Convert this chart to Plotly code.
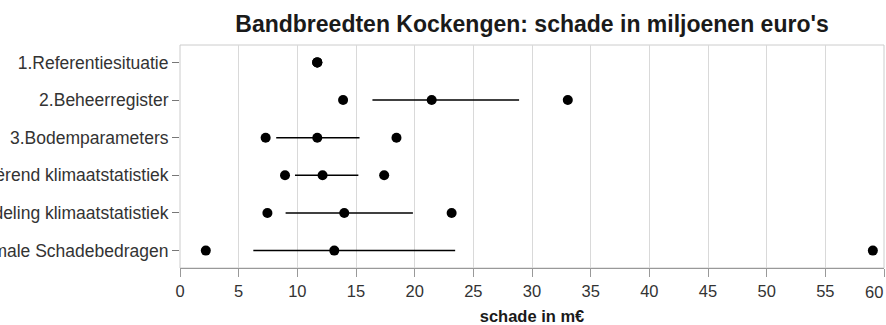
import plotly.graph_objects as go

# Scenarios (top to bottom) and the damage values per scenario, in million euro
categories = [
    "1.Referentiesituatie",
    "2.Beheerregister",
    "3.Bodemparameters",
    "4.Variërend klimaatstatistiek",
    "5.Verdeling klimaatstatistiek",
    "6.Maximale Schadebedragen",
]
laag = [11.7, 13.9, 7.3, 8.95, 7.45, 2.2]
midden = [11.7, 21.45, 11.7, 12.15, 14.0, 13.15]
hoog = [11.7, 33.05, 18.45, 17.4, 23.15, 59.05]
band_onder = [None, 16.4, 8.2, 9.8, 9.0, 6.25]
band_boven = [None, 28.9, 15.3, 15.2, 19.85, 23.45]

tick_vals = [0, 5, 10, 15, 20, 25, 30, 35, 40, 45, 50, 55, 60]
tick_text = [str(v) for v in tick_vals]

FONT = "Liberation Sans, Arial, sans-serif"
TICK_FONT = dict(family=FONT, size=16.5, color="#333333")

# band segments: one line piece per scenario, separated by gaps
seg_x, seg_y = [], []
for cat, lo, hi in zip(categories, band_onder, band_boven):
    if lo is None or hi is None:
        continue
    seg_x += [lo, hi, None]
    seg_y += [cat, cat, None]

fig = go.Figure()
fig.add_trace(go.Scatter(
    x=seg_x, y=seg_y, mode="lines",
    line=dict(color="black", width=1.5),
    hoverinfo="skip", showlegend=False,
))
for name, vals in (("laag", laag), ("midden", midden), ("hoog", hoog)):
    fig.add_trace(go.Scatter(
        x=vals, y=categories, mode="markers", name=name,
        marker=dict(color="black", size=10, line=dict(width=0)),
        showlegend=False,
    ))

# the last x label sits at the page edge: draw it nudged inwards
last_label = tick_text[-1]
tick_text[-1] = ""
fig.add_annotation(
    x=tick_vals[-1], xref="x", y=0, yref="paper",
    text=last_label, showarrow=False, font=TICK_FONT,
    xanchor="center", yanchor="top", xshift=-10, yshift=-13,
)

fig.update_layout(
    width=886, height=325,
    margin=dict(l=180, r=2, t=45, b=57, autoexpand=False),
    paper_bgcolor="white", plot_bgcolor="white",
    font=dict(family=FONT, size=16.5, color="#333333"),
    title=dict(
        text="Bandbreedten Kockengen: schade in miljoenen euro's",
        font=dict(family=FONT, size=23, color="#1a1a1a", weight="bold"),
        x=0.5, xref="paper", xanchor="center",
        y=1 - 24 / 325, yref="container", yanchor="middle",
    ),
    xaxis=dict(
        range=[0, 60], tickvals=tick_vals, ticktext=tick_text,
        automargin=False,
        showgrid=True, gridcolor="#d9d9d9", gridwidth=1,
        zeroline=False,
        showline=True, linecolor="#999999", linewidth=1,
        ticks="outside", ticklen=8, tickcolor="#999999",
        tickfont=TICK_FONT,
        title=dict(text="schade in m€",
                   font=dict(family=FONT, size=16.5, color="#1a1a1a", weight="bold"),
                   standoff=12),
    ),
    yaxis=dict(
        type="category", categoryorder="array", categoryarray=categories,
        autorange="reversed", automargin=False,
        showgrid=False, zeroline=False,
        showline=False,
        ticks="outside", ticklen=7, tickcolor="#777777",
        ticklabeloverflow="allow",
        tickfont=dict(family=FONT, size=17.5, color="#333333"),
    ),
    shapes=[dict(
        type="rect", xref="paper", yref="paper", x0=0, x1=1, y0=0, y1=1,
        line=dict(color="#cccccc", width=1), fillcolor="rgba(0,0,0,0)",
        layer="below",
    )],
)

fig.write_html("out.html")
